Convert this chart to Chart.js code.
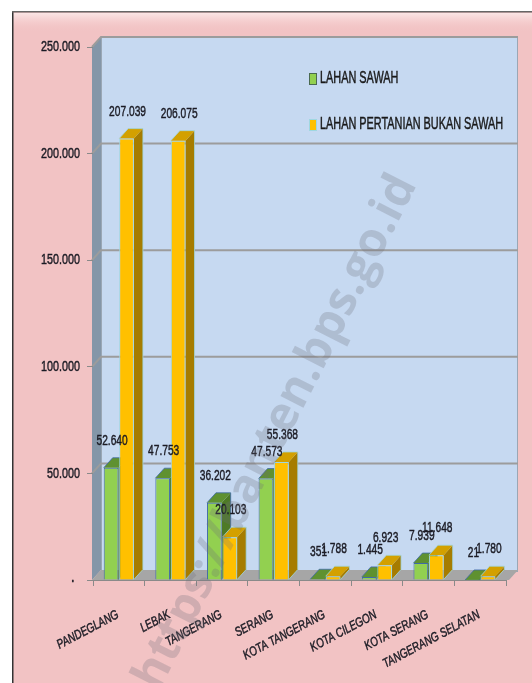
<!DOCTYPE html>
<html>
<head>
<meta charset="utf-8">
<script src="https://cdn.jsdelivr.net/npm/chart.js@4/dist/chart.umd.min.js"></script>
<style>
  html, body { margin: 0; padding: 0; background: #fff; }
  #wrap { position: relative; width: 532px; height: 683px; }
</style>
</head>
<body>
<div id="wrap"><canvas id="mainChart"></canvas></div>
<script>
// ─────────────────────────────────────────
// DATA
// ─────────────────────────────────────────

const kabupaten = [
  'PANDEGLANG', 'LEBAK', 'TANGERANG', 'SERANG',
  'KOTA TANGERANG', 'KOTA CILEGON', 'KOTA SERANG', 'TANGERANG SELATAN'
];

const lahanSawah = [52640, 47753, 36202, 47573, 351, 1445, 7939, 21];
const lahanBukanSawah = [207039, 206075, 20103, 55368, 1788, 6923, 11648, 1780];

const yTicks = [0, 50000, 100000, 150000, 200000, 250000];

const WATERMARK = 'https://banten.bps.go.id';

// ─────────────────────────────────────────
// STYLE
// ─────────────────────────────────────────

const FONT = "'Liberation Sans', Arial, sans-serif";
const DX = 9;   // kedalaman 3D
const DY = 10;

const warna = {
  sawah: { front: '#92D050', top: '#5F9130', side: '#4E7A26', border: '#3F6AA8' },
  bukan: { front: '#FFC000', top: '#D3A000', side: '#A67C00', border: '#9FD7E0' },
};

function fmt(v) {
  return String(v).replace(/\B(?=(\d{3})+(?!\d))/g, '.');
}

// teks dipersempit (meniru font Calibri yang dipadatkan)
function teks(ctx, str, x, y, opt) {
  ctx.save();
  ctx.translate(x, y);
  if (opt.rot) ctx.rotate(opt.rot);
  ctx.scale(opt.sx || 0.72, 1);
  ctx.font = opt.font;
  ctx.fillStyle = opt.color || '#1b1b24';
  ctx.strokeStyle = opt.color || '#1b1b24';
  ctx.lineWidth = 0.45;
  ctx.textAlign = opt.align || 'left';
  ctx.textBaseline = 'middle';
  ctx.fillText(str, 0, 0);
  ctx.strokeText(str, 0, 0);
  ctx.restore();
}

// ─────────────────────────────────────────
// PLUGINS
// ─────────────────────────────────────────

const latar = {
  id: 'latar',
  beforeDraw(chart) {
    const { ctx, chartArea: a } = chart;
    ctx.save();
    ctx.fillStyle = '#fff';
    ctx.fillRect(0, 0, chart.width, chart.height);

    // bingkai merah muda
    ctx.fillStyle = '#F2C3C4';
    ctx.fillRect(12, 12, chart.width - 12, chart.height - 12);
    const g = ctx.createLinearGradient(0, 13, 0, 32);
    g.addColorStop(0, '#FBE6E6');
    g.addColorStop(1, 'rgba(242,195,196,0)');
    ctx.fillStyle = g;
    ctx.fillRect(13, 13, chart.width - 13, 20);
    ctx.fillStyle = '#333';
    ctx.fillRect(12, 12, 1.5, chart.height - 12);
    ctx.fillStyle = '#666';
    ctx.fillRect(12, 11, chart.width - 12, 1.5);

    // dinding belakang
    ctx.fillStyle = '#C6D9F1';
    ctx.fillRect(a.left + 8, a.top - DY, a.right - a.left + 4, a.bottom - a.top + 2);
    ctx.strokeStyle = '#9aa7b5';
    ctx.lineWidth = 1;
    ctx.strokeRect(a.left + 8.5, a.top - DY + 0.5, a.right - a.left + 3, a.bottom - a.top + 1);

    // dinding kiri
    ctx.fillStyle = '#8496A8';
    ctx.beginPath();
    ctx.moveTo(a.left - 1, a.top);
    ctx.lineTo(a.left + 8, a.top - DY);
    ctx.lineTo(a.left + 8, a.bottom - DY);
    ctx.lineTo(a.left - 1, a.bottom);
    ctx.closePath();
    ctx.fill();

    // lantai
    ctx.fillStyle = '#A6A6A6';
    ctx.beginPath();
    ctx.moveTo(a.left - 1, a.bottom);
    ctx.lineTo(a.left + 8, a.bottom - DY);
    ctx.lineTo(a.right + 12, a.bottom - DY);
    ctx.lineTo(a.right + 3, a.bottom);
    ctx.closePath();
    ctx.fill();

    // garis grid di dinding
    const y = chart.scales.y;
    ctx.strokeStyle = '#9C9C9C';
    ctx.lineWidth = 2;
    yTicks.forEach(v => {
      if (v === 0) return;
      const py = y.getPixelForValue(v);
      ctx.beginPath();
      ctx.moveTo(a.left - 1, py);
      ctx.lineTo(a.left + 8, py - DY);
      ctx.lineTo(a.right + 12, py - DY);
      ctx.stroke();
    });
    ctx.restore();
  },
};

function poly(ctx, pts, fill) {
  ctx.fillStyle = fill;
  ctx.beginPath();
  ctx.moveTo(pts[0][0], pts[0][1]);
  for (let i = 1; i < pts.length; i++) ctx.lineTo(pts[i][0], pts[i][1]);
  ctx.closePath();
  ctx.fill();
}

const batang3d = {
  id: 'batang3d',
  beforeDatasetsDraw(chart) {
    const { ctx } = chart;
    ctx.save();
    chart.data.datasets.forEach((ds, i) => {
      const c = ds.warna3d;
      chart.getDatasetMeta(i).data.forEach(el => {
        const l = el.x - el.width / 2;
        const r = el.x + el.width / 2;
        const t = el.y;
        const b = el.base;
        poly(ctx, [[r, t], [r + DX, t - DY], [r + DX, b - DY], [r, b]], c.side);
        poly(ctx, [[l, t], [l + DX, t - DY], [r + DX, t - DY], [r, t]], c.top);
        ctx.strokeStyle = c.border;
        ctx.lineWidth = 0.8;
        ctx.beginPath();
        ctx.moveTo(l, t); ctx.lineTo(l + DX, t - DY); ctx.lineTo(r + DX, t - DY);
        ctx.lineTo(r + DX, b - DY); ctx.lineTo(r, b);
        ctx.stroke();
      });
    });
    ctx.restore();
  },
  afterDatasetsDraw(chart) {
    const { ctx } = chart;
    chart.data.datasets.forEach((ds, i) => {
      chart.getDatasetMeta(i).data.forEach((el, j) => {
        teks(ctx, fmt(ds.data[j]), el.x + 1, el.y - 27,
          { font: '15px ' + FONT, sx: 0.68, align: 'center' });
      });
    });
  },
};

// label sumbu digambar sendiri supaya bisa dipadatkan
const labelSumbu = {
  id: 'labelSumbu',
  afterDraw(chart) {
    const { ctx, scales } = chart;
    const y = scales.y;
    y.ticks.forEach((t, i) => {
      const py = y.getPixelForTick(i);
      if (t.value === 0) {
        teks(ctx, '.', 74, py - 2, { font: 'bold 13px ' + FONT, align: 'right' });
      } else {
        teks(ctx, fmt(t.value), 80, py, { font: '15px ' + FONT, align: 'right' });
      }
    });
    const x = scales.x;
    x.ticks.forEach((t, i) => {
      const px = x.getPixelForTick(i);
      teks(ctx, chart.data.labels[i], px - 1, 614, {
        font: 'italic 13px ' + FONT, sx: 0.76, align: 'right', rot: -28 * Math.PI / 180,
      });
    });
  },
};

const legenda = {
  id: 'legenda',
  afterDatasetsDraw(chart) {
    const { ctx } = chart;
    chart.data.datasets.forEach((ds, i) => {
      const y = 79 + i * 46;
      ctx.save();
      ctx.fillStyle = ds.backgroundColor;
      ctx.fillRect(309, y - 6, 8, 12);
      ctx.strokeStyle = i === 0 ? '#4a6a50' : '#9FD7E0';
      ctx.lineWidth = 1;
      ctx.strokeRect(309.5, y - 5.5, 7, 11);
      ctx.restore();
      teks(ctx, ds.label, 320, y, { font: '16px ' + FONT, sx: 0.68, color: '#1a1a1a' });
    });
  },
};

const tandaAir = {
  id: 'tandaAir',
  afterDraw(chart) {
    const { ctx } = chart;
    ctx.save();
    ctx.translate(276, 432);
    ctx.rotate(-63 * Math.PI / 180);
    let size = 44;
    ctx.font = 'bold ' + size + "px 'Open Sans', sans-serif";
    const w = ctx.measureText(WATERMARK).width;
    size = size * 570 / w;
    ctx.font = 'bold ' + size + "px 'Open Sans', sans-serif";
    ctx.fillStyle = 'rgba(110,110,120,0.26)';
    ctx.textAlign = 'center';
    ctx.textBaseline = 'middle';
    ctx.fillText(WATERMARK, 0, 0);
    ctx.restore();
  },
};

// ─────────────────────────────────────────
// GRAFIK
// ─────────────────────────────────────────

const ctx = document.getElementById('mainChart');

new Chart(ctx, {
  type: 'bar',
  data: {
    labels: kabupaten,
    datasets: [
      {
        label: 'LAHAN SAWAH',
        data: lahanSawah,
        backgroundColor: warna.sawah.front,
        borderColor: warna.sawah.border,
        borderWidth: 1,
        warna3d: warna.sawah,
      },
      {
        label: 'LAHAN PERTANIAN BUKAN SAWAH',
        data: lahanBukanSawah,
        backgroundColor: warna.bukan.front,
        borderColor: warna.bukan.border,
        borderWidth: 1,
        warna3d: warna.bukan,
      },
    ],
  },
  options: {
    responsive: true,
    maintainAspectRatio: false,
    animation: false,
    devicePixelRatio: 1,
    layout: { padding: { left: 0, top: 47, right: 26, bottom: 0 } },
    categoryPercentage: 0.6,
    barPercentage: 0.95,
    plugins: {
      legend: { display: false },
      tooltip: { enabled: false },
    },
    scales: {
      x: {
        afterFit(s) { s.height = 103; s.paddingLeft = 0; s.paddingRight = 0; },
        grid: {
          offset: true,
          drawOnChartArea: false,
          color: '#8a8a8a',
          tickLength: 6,
        },
        border: { color: '#8a8a8a', width: 1 },
        ticks: { display: false, autoSkip: false },
      },
      y: {
        min: 0,
        max: 250000,
        afterFit(s) { s.width = 93; s.paddingTop = 0; s.paddingBottom = 0; },
        afterBuildTicks(s) { s.ticks = yTicks.map(v => ({ value: v })); },
        grid: {
          drawOnChartArea: false,
          color: '#8a8a8a',
          tickLength: 6,
        },
        border: { display: false },
        ticks: { display: false },
      },
    },
  },
  plugins: [latar, batang3d, legenda, labelSumbu, tandaAir],
});
</script>
</body>
</html>
